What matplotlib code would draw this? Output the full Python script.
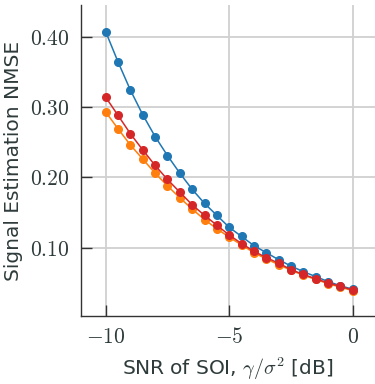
import numpy as np
import matplotlib
matplotlib.use("Agg")
import matplotlib.pyplot as plt
from matplotlib.ticker import FuncFormatter

# SNR grid (dB) and NMSE values
snr_db = [-10, -9.5, -9, -8.5, -8, -7.5, -7, -6.5, -6, -5.5, -5,
          -4.5, -4, -3.5, -3, -2.5, -2, -1.5, -1, -0.5, 0]
nmse_blue = [0.407, 0.364, 0.324, 0.289, 0.258, 0.231, 0.206, 0.183, 0.163, 0.146, 0.129,
             0.116, 0.103, 0.093, 0.083, 0.074, 0.066, 0.059, 0.052, 0.046, 0.041]
nmse_orange = [0.293, 0.269, 0.246, 0.226, 0.206, 0.188, 0.171, 0.155, 0.140, 0.127, 0.115,
               0.104, 0.093, 0.084, 0.076, 0.068, 0.061, 0.055, 0.049, 0.044, 0.039]
nmse_red = [0.314, 0.288, 0.262, 0.239, 0.217, 0.197, 0.179, 0.161, 0.146, 0.132, 0.118,
            0.106, 0.095, 0.086, 0.078, 0.069, 0.062, 0.056, 0.050, 0.045, 0.040]

xticks = [-10, -5, 0]
yticks = [0.10, 0.20, 0.30, 0.40]

plt.rcParams['mathtext.fontset'] = 'cm'
plt.rcParams['font.family'] = ['DejaVu Sans']
txt = '#2f3b3b'

fig = plt.figure(figsize=(3.75, 3.84), dpi=100)
ax = fig.add_axes([81/375, 68/384, 294/375, 311/384])

ax.plot(snr_db, nmse_orange, color='tab:orange', marker='o', ms=5.5, lw=1.1)
ax.plot(snr_db, nmse_blue, color='tab:blue', marker='o', ms=5.5, lw=1.1)
ax.plot(snr_db, nmse_red, color='tab:red', marker='o', ms=5.5, lw=1.1)

ax.set_xlim(-11.0, 0.9)
ax.set_ylim(0.003, 0.445)
ax.set_xticks(xticks)
ax.set_yticks(yticks)
ax.xaxis.set_major_formatter(FuncFormatter(lambda v, p: r'$%d$' % v))
ax.yaxis.set_major_formatter(FuncFormatter(lambda v, p: r'$%.2f$' % v))
ax.grid(True, color='#d0d0d0', lw=1.3)
ax.set_axisbelow(True)
for s in ['top', 'right']:
    ax.spines[s].set_visible(False)
for s in ['left', 'bottom']:
    ax.spines[s].set_color('#333333')
    ax.spines[s].set_linewidth(1.0)
ax.tick_params(direction='in', length=8, width=1, color='#333333',
               labelsize=15.5, labelcolor=txt, pad=8)

ax.set_xlabel(r'SNR of SOI, $\gamma/\sigma^2$ [dB]', fontsize=14.5, color=txt, labelpad=6)
ax.set_ylabel('Signal Estimation NMSE', fontsize=14.5, color=txt, labelpad=5)

fig.savefig('out.png', dpi=100)
